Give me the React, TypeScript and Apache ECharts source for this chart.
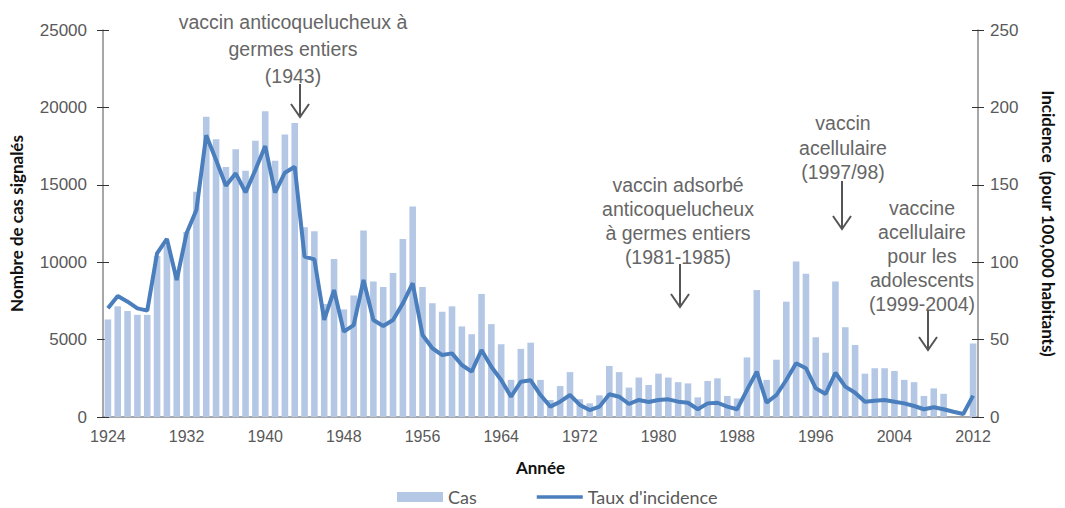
import React, { useEffect, useRef } from "react";
import * as echarts from "echarts";

// Categories: years 1924..2012
const years: string[] = [];
for (let y = 1924; y <= 2012; y++) years.push(String(y));

// Reported cases (left axis)
const cases: number[] = [
  6300, 7150, 6850, 6600, 6600, 10400, 11100, 9300, 11950, 14550,
  19400, 17950, 16150, 17300, 15900, 17850, 19750, 16550, 18250, 19000,
  12250, 12000, 7300, 10200, 6950, 7850, 12050, 8750, 8400, 9300,
  11500, 13600, 8400, 7350, 6800, 7150, 5850, 5350, 7950, 6000,
  4700, 2400, 4400, 4800, 2400, 1100, 2000, 2900, 1150, 880,
  1400, 3300, 2900, 1900, 2550, 2070, 2800, 2550, 2250, 2170,
  1270, 2330, 2500, 1360, 1200, 3850, 8200, 2400, 3700, 7450,
  10050, 9250, 5150, 4150, 8750, 5800, 4650, 2800, 3150, 3150,
  2970, 2400, 2250, 1360, 1850, 1500, 0, 0, 4750,
];

// Incidence per 100,000 (right axis)
const incidence: number[] = [
  70.2, 78.2, 74.5, 70.2, 68.7, 105.7, 115, 88.5, 118.7, 133.7,
  182, 166, 149.4, 157.4, 145.1, 159.6, 175, 144.9, 157.8, 161.7,
  103.6, 101.8, 62.7, 82, 55.1, 59.4, 88.5, 62.7, 58.8, 62.7,
  73.4, 86.4, 53, 44.4, 40, 41.1, 33.6, 29.3, 43.3, 32.5,
  23.9, 13.1, 22.8, 23.7, 14.2, 6.7, 9.9, 14.2, 7.8, 4.5,
  6.7, 14.7, 13.1, 8.4, 11, 9.7, 11, 11.4, 9.9, 9.2,
  5, 8.8, 9.2, 6.7, 5, 17.4, 29.3, 9.3, 14.2, 23.9,
  34.7, 31.5, 18.5, 14.9, 28.6, 19.6, 15.7, 9.9, 10.5, 11,
  9.9, 8.8, 7.1, 5, 6.3, 5, 3.4, 1.9, 13.8,
];

// Axis ranges
const casesMin = 0, casesMax = 25000, casesStep = 5000;
const rateMin = 0, rateMax = 250, rateStep = 50;

// Annotation texts
const annotationTexts: string[][] = [
  ["vaccin anticoquelucheux à", "germes entiers", "(1943)"],
  ["vaccin adsorbé", "anticoquelucheux", "à germes entiers", "(1981-1985)"],
  ["vaccin", "acellulaire", "(1997/98)"],
  ["vaccine", "acellulaire", "pour les", "adolescents", "(1999-2004)"],
];

// Annotation layout (pixels)
const annotationLayout = [
  { cx: 293, top: 8, lh: 27, ax: 300, ay1: 84, ay2: 117 },
  { cx: 678, top: 173, lh: 24, ax: 680, ay1: 264, ay2: 307 },
  { cx: 843, top: 111, lh: 24.5, ax: 842, ay1: 181, ay2: 229 },
  { cx: 922, top: 196, lh: 24, ax: 928, ay1: 311, ay2: 350 },
];

const BAR = "#b4c8e6";
const LINE = "#4a7ebc";
const AXIS = "#8a8a8a";
const LABEL = "#595959";
const ANNOT = "#666666";

export default function App() {
  const ref = useRef<HTMLDivElement>(null);
  useEffect(() => {
    document.body.style.margin = "0";
    if (!ref.current) return;
    const chart = echarts.init(ref.current, undefined, { renderer: "svg" });

    const graphics: any[] = [];
    annotationTexts.forEach((lines, i) => {
      const L = annotationLayout[i];
      graphics.push({
        type: "text",
        x: L.cx,
        y: L.top,
        style: {
          text: lines.join("\n"),
          align: "center",
          textAlign: "center",
          verticalAlign: "top",
          textVerticalAlign: "top",
          fontSize: 19.5,
          fontFamily: "Liberation Sans, Arial, sans-serif",
          lineHeight: L.lh,
          fill: ANNOT,
        },
      });
      graphics.push({
        type: "line",
        shape: { x1: L.ax, y1: L.ay1, x2: L.ax, y2: L.ay2 },
        style: { stroke: "#555555", lineWidth: 2 },
      });
      graphics.push({
        type: "polyline",
        shape: { points: [[L.ax - 9, L.ay2 - 13], [L.ax, L.ay2], [L.ax + 9, L.ay2 - 13]] },
        style: { stroke: "#555555", lineWidth: 2, fill: "none" },
      });
    });

    const axisFont = { fontFamily: "Liberation Sans, Arial, sans-serif", color: LABEL };
    const titleFont = { fontFamily: "Lato, sans-serif", fontWeight: "bold" as const, color: "#111", fontSize: 17 };
    const plain = (v: number) => String(v);

    chart.setOption({
      animation: false,
      grid: { left: 100, right: 73, top: 30, bottom: 91, containLabel: false },
      legend: {
        left: 392,
        top: 483,
        itemGap: 60,
        itemWidth: 46,
        itemHeight: 10,
        textStyle: { fontFamily: "Lato, sans-serif", fontSize: 18, color: LABEL },
        data: [
          { name: "Cas", icon: "rect" },
          { name: "Taux d'incidence", icon: "path://M0,0h50v4h-50z" },
        ],
      },
      xAxis: [
        {
          type: "category",
          data: years,
          boundaryGap: true,
          name: "Année",
          nameLocation: "middle",
          nameGap: 42,
          nameTextStyle: titleFont,
          axisLine: { lineStyle: { color: AXIS, width: 1.5 } },
          axisTick: { interval: 3, alignWithLabel: false, length: 5, lineStyle: { color: "#333" } },
          axisLabel: { interval: 7, margin: 11, fontSize: 16, ...axisFont },
          splitLine: { show: false },
        },
        {
          type: "category",
          data: years,
          boundaryGap: true,
          position: "bottom",
          axisLine: { show: false },
          axisTick: { interval: 3, alignWithLabel: false, inside: true, length: 5, lineStyle: { color: "#333" } },
          axisLabel: { show: false },
          splitLine: { show: false },
        },
      ],
      yAxis: [
        {
          type: "value",
          min: casesMin,
          max: casesMax,
          interval: casesStep,
          position: "left",
          name: "Nombre de cas signalés",
          nameLocation: "middle",
          nameGap: 78,
          nameTextStyle: titleFont,
          axisLine: { show: true, lineStyle: { color: AXIS, width: 1.5 } },
          axisTick: { show: true, length: 6, lineStyle: { color: "#333" } },
          axisLabel: { margin: 16, fontSize: 17, formatter: plain, ...axisFont },
          splitLine: { show: false },
        },
        {
          type: "value",
          min: rateMin,
          max: rateMax,
          interval: rateStep,
          position: "right",
          name: "Incidence  (pour 100,000 habitants)",
          nameLocation: "middle",
          nameRotate: -90,
          nameGap: 62,
          nameTextStyle: titleFont,
          axisLine: { show: true, lineStyle: { color: AXIS, width: 1.5 } },
          axisTick: { show: true, length: 6, lineStyle: { color: "#333" } },
          axisLabel: { margin: 12, fontSize: 17, formatter: plain, ...axisFont },
          splitLine: { show: false },
        },
        {
          type: "value",
          min: casesMin,
          max: casesMax,
          interval: casesStep,
          position: "left",
          axisLine: { show: false },
          axisTick: { show: true, inside: true, length: 6, lineStyle: { color: "#333" } },
          axisLabel: { show: false },
          splitLine: { show: false },
        },
        {
          type: "value",
          min: rateMin,
          max: rateMax,
          interval: rateStep,
          position: "right",
          axisLine: { show: false },
          axisTick: { show: true, inside: true, length: 6, lineStyle: { color: "#333" } },
          axisLabel: { show: false },
          splitLine: { show: false },
        },
      ],
      series: [
        {
          name: "Cas",
          type: "bar",
          xAxisIndex: 0,
          yAxisIndex: 0,
          data: cases,
          barCategoryGap: "33%",
          itemStyle: { color: BAR },
        },
        {
          name: "Taux d'incidence",
          type: "line",
          xAxisIndex: 0,
          yAxisIndex: 1,
          data: incidence,
          symbol: "none",
          lineStyle: { color: LINE, width: 4 },
          itemStyle: { color: LINE },
          z: 3,
        },
      ],
      graphic: { elements: graphics },
    });

    return () => chart.dispose();
  }, []);

  return <div ref={ref} style={{ width: 1065, height: 508 }} />;
}
